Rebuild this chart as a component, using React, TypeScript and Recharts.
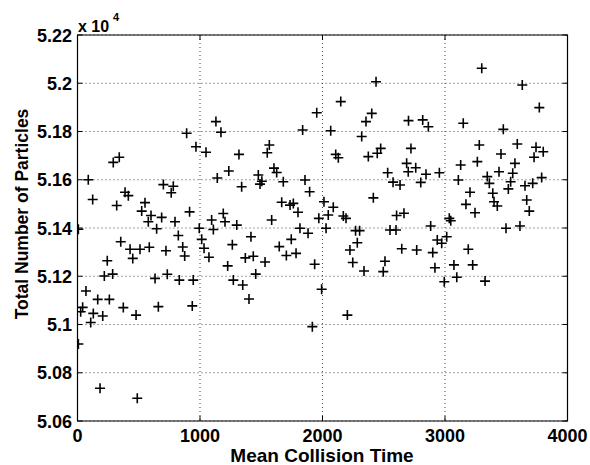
import React from "react";
import {
  ScatterChart,
  Scatter,
  XAxis,
  YAxis,
  CartesianGrid,
  ReferenceArea,
} from "recharts";

// Mean collision time (x) values
const times: number[] = [
  7, 7, 26, 42, 69, 88, 108, 124, 129, 165, 184, 206, 219, 243, 260, 287, 292, 320, 341, 353,
  374, 388, 415, 429, 451, 478, 488, 510, 524, 551, 578, 586, 600, 633, 646, 660, 687, 701, 722, 733,
  765, 782, 796, 823, 831, 859, 875, 891, 915, 937, 945, 967, 994, 1014, 1033, 1049, 1073, 1095, 1109, 1130,
  1141, 1171, 1190, 1204, 1226, 1235, 1264, 1272, 1300, 1318, 1340, 1349, 1370, 1400, 1416, 1435, 1455, 1476, 1490, 1505,
  1531, 1549, 1566, 1585, 1604, 1626, 1647, 1667, 1680, 1705, 1735, 1745, 1762, 1784, 1800, 1816, 1838, 1857, 1882, 1895,
  1917, 1936, 1953, 1970, 1993, 2012, 2029, 2047, 2067, 2088, 2108, 2129, 2149, 2170, 2192, 2203, 2224, 2247, 2270, 2284,
  2303, 2320, 2339, 2355, 2374, 2402, 2415, 2437, 2447, 2475, 2496, 2510, 2532, 2551, 2576, 2600, 2605, 2633, 2647, 2665,
  2687, 2700, 2702, 2722, 2761, 2769, 2802, 2818, 2845, 2864, 2883, 2900, 2918, 2937, 2954, 2973, 2994, 3014, 3035, 3047,
  3073, 3096, 3109, 3128, 3149, 3171, 3190, 3204, 3226, 3245, 3264, 3280, 3300, 3327, 3345, 3362, 3390, 3400, 3427, 3441,
  3457, 3476, 3498, 3517, 3536, 3553, 3571, 3590, 3612, 3631, 3653, 3667, 3688, 3716, 3727, 3743, 3770, 3789, 3802,
];

// Total number of particles (y) values
const particles: number[] = [
  50919, 51395, 51053, 51071, 51139, 51600, 51008, 51518, 51046, 51104, 50736, 51035, 51201, 51264, 51104, 51209, 51672, 51493, 51693, 51343,
  51070, 51548, 51534, 51312, 51274, 51039, 50694, 51312, 51470, 51505, 51426, 51320, 51452, 51191, 51397, 51074, 51444, 51580, 51306, 51208,
  51546, 51573, 51426, 51369, 51184, 51321, 51284, 51793, 51467, 51077, 51184, 51737, 51399, 51353, 51316, 51714, 51279, 51433, 51394, 51841,
  51607, 51797, 51460, 51426, 51243, 51636, 51331, 51184, 51412, 51705, 51571, 51164, 51276, 51106, 51364, 51283, 51209, 51620, 51582, 51594,
  51259, 51712, 51744, 51433, 51648, 51630, 51323, 51507, 51592, 51286, 51495, 51353, 51502, 51295, 51465, 51399, 51806, 51599, 51378, 51550,
  50991, 51250, 51878, 51440, 51146, 51509, 51399, 51454, 51803, 51486, 51705, 51691, 51924, 51450, 51440, 51039, 51309, 51257, 51389, 51339,
  51389, 51779, 51222, 51841, 51696, 51875, 51525, 52006, 51710, 51730, 51219, 51262, 51629, 51392, 51590, 51392, 51452, 51578, 51314, 51461,
  51668, 51633, 51845, 51730, 51650, 51309, 51589, 51848, 51623, 51820, 51408, 51298, 51235, 51350, 51629, 51337, 51177, 51364, 51440, 51430,
  51247, 51196, 51599, 51661, 51834, 51498, 51312, 51548, 51247, 51463, 51675, 51744, 52062, 51180, 51613, 51585, 51544, 51509, 51491, 51633,
  51707, 51809, 51399, 51562, 51592, 51627, 51668, 51748, 51408, 51993, 51575, 51516, 51470, 51585, 51693, 51735, 51899, 51609, 51716,
];

const xTicks: number[] = [0, 1000, 2000, 3000, 4000];
const yTicks: number[] = [50600, 50800, 51000, 51200, 51400, 51600, 51800, 52000, 52200];

const data = times.map((t, i) => ({ x: t, y: particles[i] }));

const W = 590;
const H = 465;
const PL = 77.5;
const PR = 567.5;
const PT = 35;
const PB = 421;
const FONT = "'Liberation Sans', Arial, Helvetica, sans-serif";

const XTick = (props: any) => {
  const { x, payload } = props;
  return (
    <g>
      <line x1={x} x2={x} y1={PB} y2={PB - 5} stroke="#000" strokeWidth={1} />
      <line x1={x} x2={x} y1={PT} y2={PT + 5} stroke="#000" strokeWidth={1} />
      <text x={x} y={442} textAnchor="middle" fontFamily={FONT} fontWeight="bold" fontSize={18} fill="#000">
        {payload.value}
      </text>
    </g>
  );
};

const YTick = (props: any) => {
  const { y, payload } = props;
  const label = String(Number((payload.value / 10000).toFixed(2)));
  return (
    <g>
      <line x1={PL} x2={PL + 5} y1={y} y2={y} stroke="#000" strokeWidth={1} />
      <line x1={PR} x2={PR - 5} y1={y} y2={y} stroke="#000" strokeWidth={1} />
      <text x={72} y={y + 6.5} textAnchor="end" fontFamily={FONT} fontWeight="bold" fontSize={18} fill="#000">
        {label}
      </text>
    </g>
  );
};

const Plus = (props: any) => {
  const { cx, cy } = props;
  if (cx == null || cy == null) return null;
  return (
    <path
      d={`M${cx - 5},${cy}H${cx + 5}M${cx},${cy - 5}V${cy + 5}`}
      stroke="#000"
      strokeWidth={1.6}
      fill="none"
    />
  );
};

export default function App() {
  return (
    <div style={{ position: "absolute", left: 0, top: 0, width: W, height: H, background: "#fff" }}>
      <ScatterChart
        width={W}
        height={H}
        margin={{ top: PT, right: W - PR, bottom: 0, left: 0 }}
      >
        <CartesianGrid stroke="#444" strokeDasharray="1 3" strokeWidth={1} />
        <XAxis
          type="number"
          dataKey="x"
          domain={[0, 4000]}
          ticks={xTicks}
          interval={0}
          height={H - PB}
          axisLine={false}
          tickLine={false}
          tick={<XTick />}
          allowDataOverflow
        />
        <YAxis
          type="number"
          dataKey="y"
          domain={[50600, 52200]}
          ticks={yTicks}
          interval={0}
          width={PL}
          axisLine={false}
          tickLine={false}
          tick={<YTick />}
          allowDataOverflow
        />
        <ReferenceArea
          x1={0}
          x2={4000}
          y1={50600}
          y2={52200}
          fill="none"
          fillOpacity={0}
          stroke="#000"
          strokeWidth={1.2}
        />
        <Scatter data={data} shape={<Plus />} isAnimationActive={false} />
      </ScatterChart>
      <svg
        width={W}
        height={H}
        style={{ position: "absolute", left: 0, top: 0, pointerEvents: "none" }}
      >
        <text x={78} y={31.5} fontFamily={FONT} fontWeight="bold" fontSize={16} fill="#000">
          x 10
        </text>
        <text x={113} y={21} fontFamily={FONT} fontWeight="bold" fontSize={11} fill="#000">
          4
        </text>
        <text x={322} y={462} textAnchor="middle" fontFamily={FONT} fontWeight="bold" fontSize={19} fill="#000">
          Mean Collision Time
        </text>
        <text
          x={28}
          y={214}
          textAnchor="middle"
          transform="rotate(-90, 28, 214)"
          fontFamily={FONT}
          fontWeight="bold"
          fontSize={17.5}
          fill="#000"
        >
          Total Number of Particles
        </text>
      </svg>
    </div>
  );
}
